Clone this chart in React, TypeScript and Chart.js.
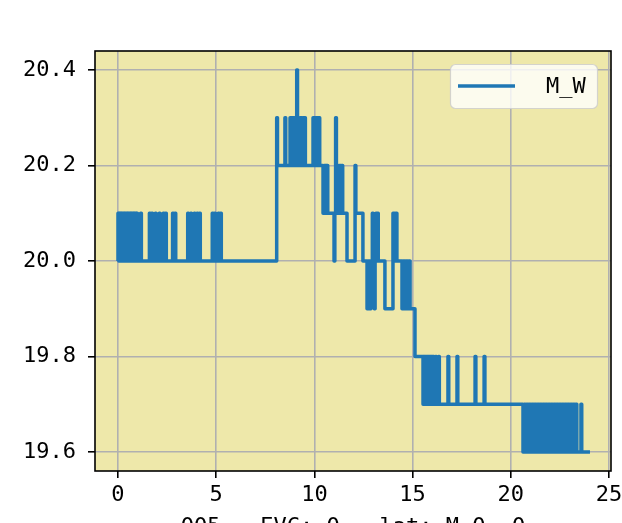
import React, { useEffect, useRef } from "react";
import { Chart, registerables } from "chart.js";
Chart.register(...registerables);

// ---- data ----
const SERIES_LABEL = "M_W";
const X_TITLE = "005 - EVC: 0 - lat: M 0. 0";
const X_TICKS = [0, 5, 10, 15, 20, 25];
const Y_TICKS = [19.6, 19.8, 20.0, 20.2, 20.4];

// base level changes (time, value)
const levelTimes = [0, 8.08, 10.44, 11.66, 12.07, 12.47, 13.59, 14.0, 14.87, 15.12, 15.53, 20.62];
const levelValues = [20.0, 20.2, 20.1, 20.0, 20.1, 20.0, 19.9, 20.0, 19.9, 19.8, 19.7, 19.6];
const END_TIME = 24.03;

// brief excursions from the base level, grouped by the value reached
const spikes_20_4 = [9.1];
const spikes_20_3 = [8.08, 8.5, 8.76, 8.84, 8.92, 9.0, 9.18, 9.26, 9.34, 9.42, 9.5, 9.93, 10.0, 10.08, 10.16, 10.23, 11.08];
const spikes_20_2 = [10.5, 10.57, 10.64, 11.16, 11.24, 11.32, 11.4, 12.07];
const spikes_20_1 = [
  0.0, 0.05, 0.1, 0.15, 0.2, 0.26, 0.31, 0.36, 0.42, 0.47, 0.52, 0.58, 0.63, 0.68, 0.74, 0.79, 0.84, 0.9, 0.95,
  1.15, 1.6, 1.72, 1.9, 2.1, 2.3, 2.42, 2.78, 2.9, 3.55, 3.7, 3.88, 4.02, 4.15, 4.8, 4.92, 5.1, 5.22,
  12.95, 13.13, 13.21, 14.0, 14.08, 14.16,
];
const spikes_20_0 = [11.0];
const spikes_19_9 = [12.68, 12.76, 12.84, 13.05, 14.46, 14.54, 14.62, 14.7, 14.78];
const spikes_19_8 = [15.56, 15.63, 15.7, 15.77, 15.84, 15.91, 15.98, 16.05, 16.17, 16.32, 16.8, 17.26, 18.18, 18.64];
const spikes_19_7 = [
  20.68, 20.76, 20.84, 20.92, 21.0, 21.08, 21.16, 21.24, 21.32, 21.4, 21.48, 21.56, 21.64, 21.72, 21.8, 21.88,
  21.96, 22.04, 22.12, 22.2, 22.28, 22.36, 22.44, 22.52, 22.6, 22.68, 22.76, 22.84, 22.92, 23.0, 23.08, 23.16,
  23.24, 23.32, 23.57,
];
const SPIKE_WIDTH = 0.04;

// ---- styles ----
const FONT = "'DejaVu Sans Mono', monospace";
const FONT_SIZE = 22;
const LINE_COLOR = "#1f77b4";
const FACE = "#EEE8AA";

function levelAt(t: number): number {
  let v = levelValues[0];
  for (let i = 0; i < levelTimes.length; i++) if (levelTimes[i] <= t + 1e-9) v = levelValues[i];
  return v;
}

function buildPoints() {
  const ev: { t: number; v: number; o: number }[] = [];
  levelTimes.forEach((t, i) => ev.push({ t, v: levelValues[i], o: 0 }));
  const groups: [number, number[]][] = [
    [20.4, spikes_20_4], [20.3, spikes_20_3], [20.2, spikes_20_2], [20.1, spikes_20_1],
    [20.0, spikes_20_0], [19.9, spikes_19_9], [19.8, spikes_19_8], [19.7, spikes_19_7],
  ];
  groups.forEach(([val, times]) =>
    times.forEach((t) => {
      ev.push({ t, v: val, o: 1 });
      ev.push({ t: t + SPIKE_WIDTH, v: levelAt(t + SPIKE_WIDTH), o: 2 });
    })
  );
  ev.sort((a, b) => a.t - b.t || a.o - b.o);
  ev.push({ t: END_TIME, v: levelAt(END_TIME), o: 0 });
  return ev.map((e) => ({ x: e.t, y: e.v }));
}

const framePlugin = {
  id: "frame",
  beforeDraw(chart: any) {
    const { ctx, chartArea: a } = chart;
    ctx.save();
    ctx.fillStyle = FACE;
    ctx.fillRect(a.left, a.top, a.right - a.left, a.bottom - a.top);
    ctx.restore();
  },
  afterDraw(chart: any) {
    const { ctx, chartArea: a } = chart;
    ctx.save();
    ctx.strokeStyle = "#000";
    ctx.lineWidth = 1.6;
    ctx.strokeRect(a.left, a.top, a.right - a.left, a.bottom - a.top);

    // legend
    const lx = 450.5, ly = 64.5, lw = 147, lh = 44;
    ctx.beginPath();
    ctx.roundRect(lx, ly, lw, lh, 5);
    ctx.fillStyle = "rgba(255,255,255,0.8)";
    ctx.fill();
    ctx.strokeStyle = "rgba(204,204,204,0.8)";
    ctx.lineWidth = 1.2;
    ctx.stroke();
    const ds = chart.data.datasets[0];
    ctx.beginPath();
    ctx.moveTo(458, 86);
    ctx.lineTo(515, 86);
    ctx.strokeStyle = ds.borderColor;
    ctx.lineWidth = 3.5;
    ctx.stroke();
    ctx.fillStyle = "#000";
    ctx.font = `${FONT_SIZE}px ${FONT}`;
    ctx.textBaseline = "middle";
    ctx.textAlign = "left";
    ctx.fillText(ds.label, 546, 87);

    // x axis title (mostly below the visible page)
    ctx.textAlign = "center";
    ctx.textBaseline = "alphabetic";
    ctx.fillText(X_TITLE, (a.left + a.right) / 2, 533);
    ctx.restore();
  },
};

export default function App() {
  const ref = useRef<HTMLCanvasElement | null>(null);
  useEffect(() => {
    document.body.style.margin = "0";
    const canvas = ref.current!;
    const tickFont = { family: FONT, size: FONT_SIZE };
    const chart = new Chart(canvas, {
      type: "line",
      data: {
        datasets: [
          {
            label: SERIES_LABEL,
            data: buildPoints(),
            borderColor: LINE_COLOR,
            borderWidth: 3.5,
            pointRadius: 0,
            stepped: true,
            fill: false,
            borderJoinStyle: "round",
          } as any,
        ],
      },
      options: {
        animation: false,
        responsive: false,
        devicePixelRatio: 1,
        parsing: false as any,
        normalized: true,
        layout: { padding: { left: 0, top: 51, right: 11, bottom: 0 } },
        plugins: { legend: { display: false }, tooltip: { enabled: false } },
        scales: {
          x: {
            type: "linear",
            min: -1.17,
            max: 25.1,
            afterBuildTicks: (s: any) => { s.ticks = X_TICKS.map((value) => ({ value })); },
            afterFit: (s: any) => { s.height = 52; s.paddingLeft = 0; s.paddingRight = 0; },
            ticks: { font: tickFont, color: "#000", padding: 4, maxRotation: 0, callback: (v: any) => String(v) },
            grid: { color: "#b0b0b0", lineWidth: 1.6, tickColor: "#000", tickLength: 7, tickWidth: 1.6 },
            border: { display: false },
          },
          y: {
            type: "linear",
            min: 19.56,
            max: 20.44,
            afterBuildTicks: (s: any) => { s.ticks = Y_TICKS.map((value) => ({ value })); },
            afterFit: (s: any) => { s.width = 95; s.paddingTop = 0; s.paddingBottom = 0; },
            ticks: { font: tickFont, color: "#000", padding: 12, callback: (v: any) => Number(v).toFixed(1) },
            grid: { color: "#b0b0b0", lineWidth: 1.6, tickColor: "#000", tickLength: 7, tickWidth: 1.6 },
            border: { display: false },
          },
        },
      },
      plugins: [framePlugin],
    });
    return () => chart.destroy();
  }, []);
  return (
    <div style={{ position: "absolute", left: 0, top: 0, width: 622, height: 523 }}>
      <canvas ref={ref} width={622} height={523} style={{ width: 622, height: 523, display: "block" }} />
    </div>
  );
}
